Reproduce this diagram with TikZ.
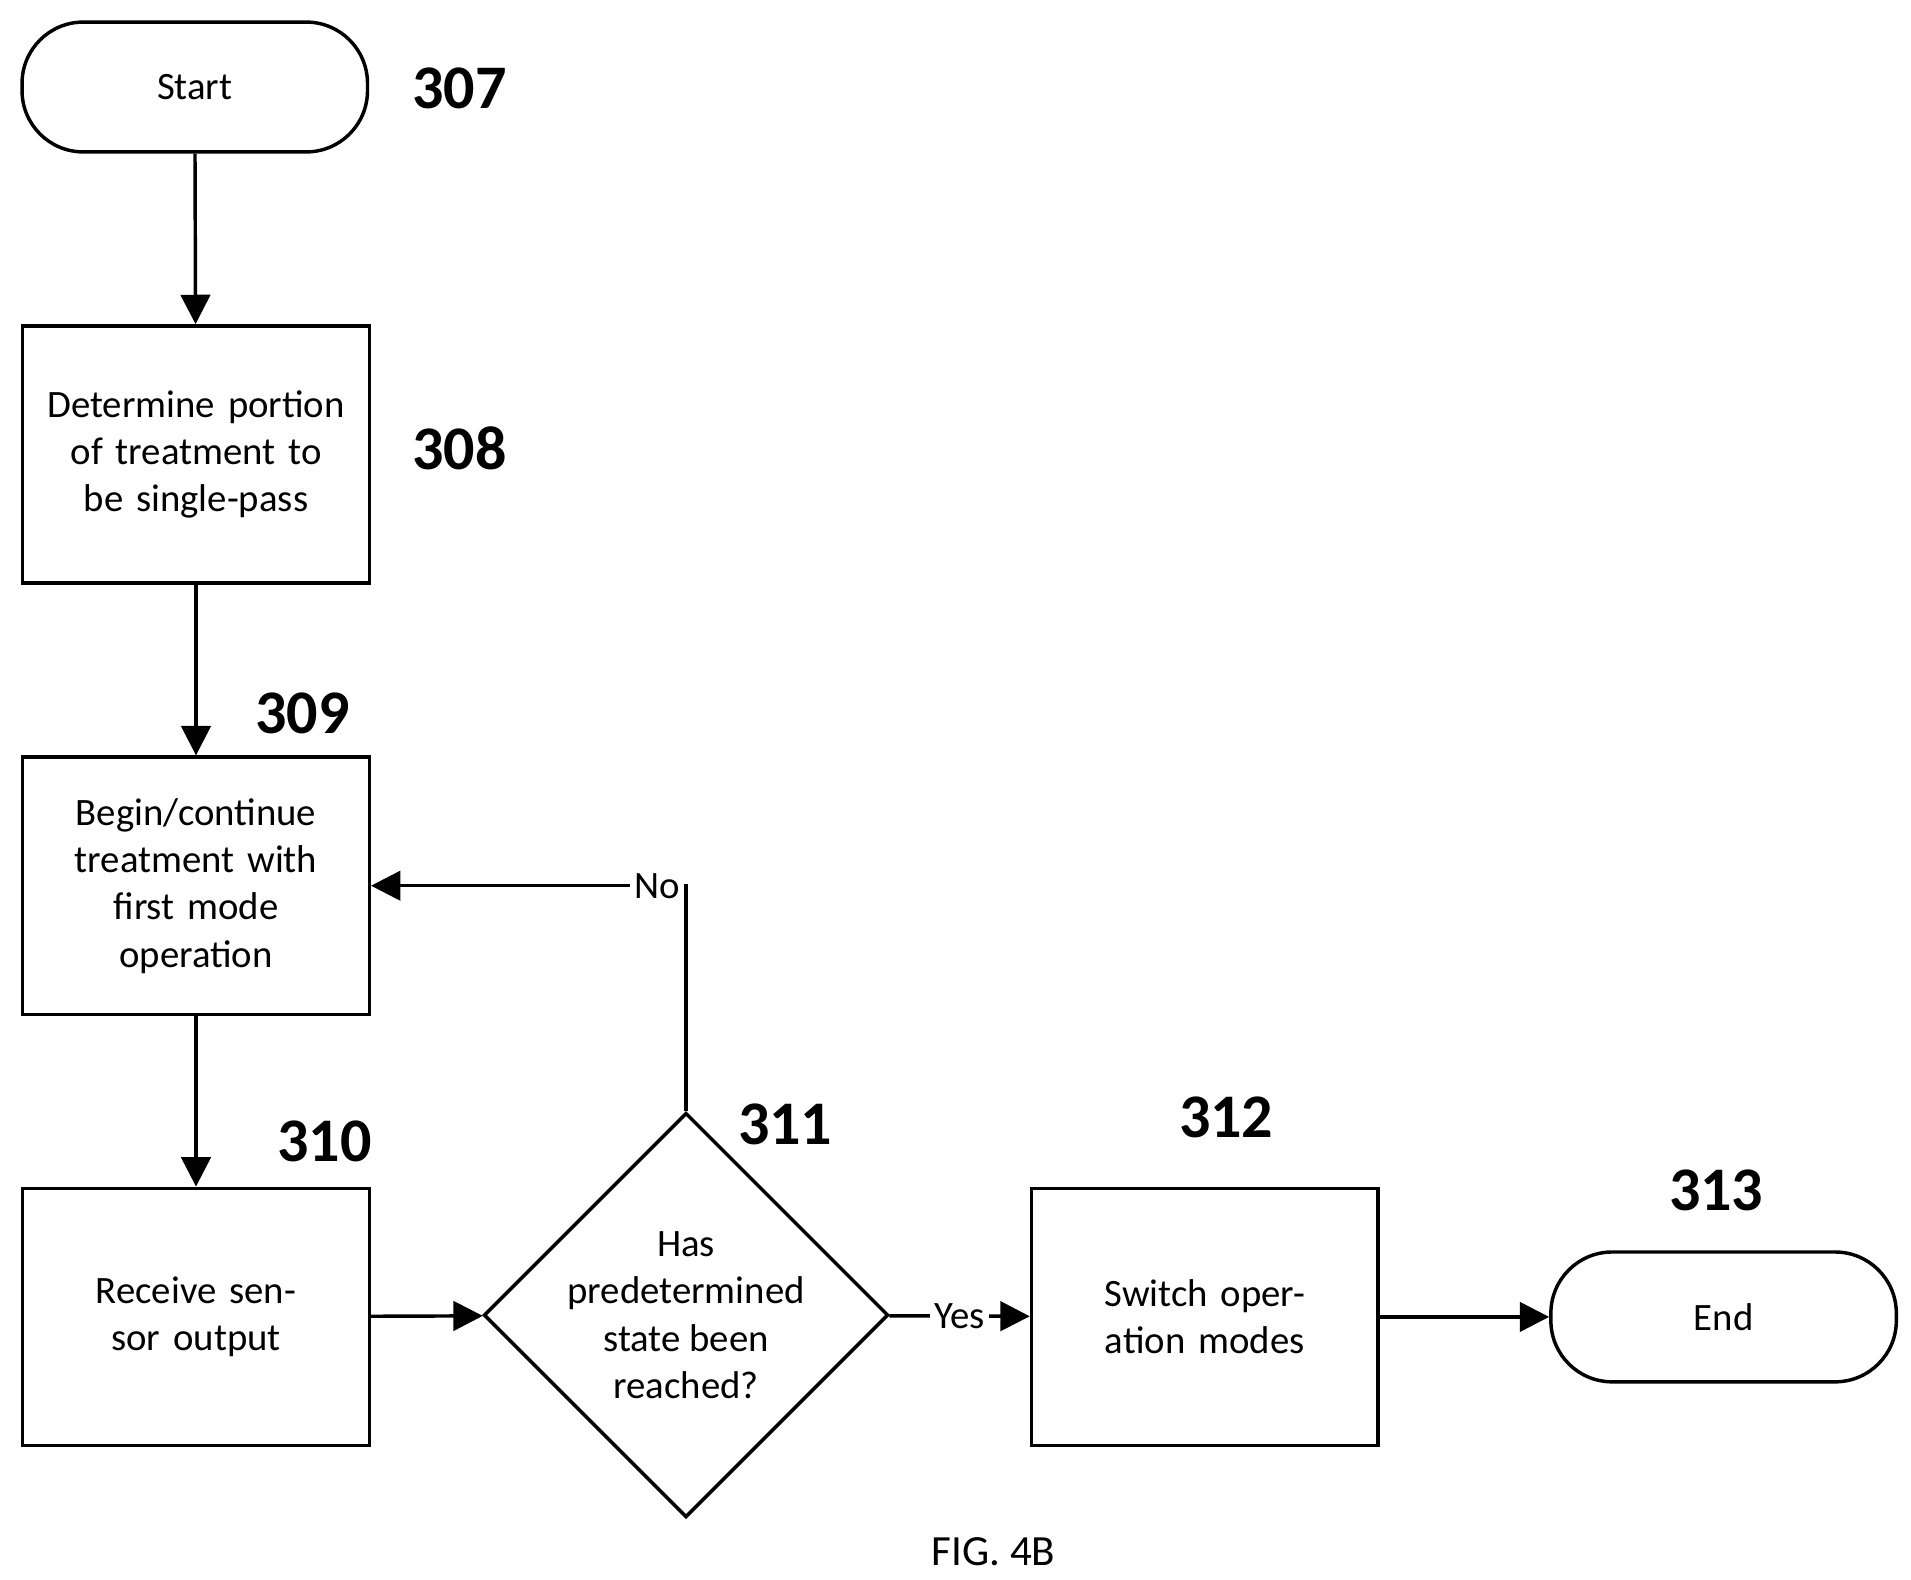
\documentclass[tikz,border=0pt]{standalone}
\usepackage{fontspec}
\setmainfont{Carlito}
\usetikzlibrary{positioning, arrows.meta, shapes.geometric}

\begin{document}
\begin{tikzpicture}[
      % GLOBAL CFG
      font=\small,
      >={Triangle[length=2.4mm,width=2.4mm]},
      % Styles
      process/.style={% For process boxes
        rectangle,
        draw,
        thick,
        align=center,
        text width=2.5cm,
        minimum height=2.1cm,
        minimum width=2.83cm
      },
      term/.style={% For start and end
        rectangle,
        rounded corners=5mm,
        draw,
        thick,
        minimum height=1.06cm,
        minimum width=2.82cm
      },
      decision/.style={% For the question
        diamond,
        draw,
        thick,
        align=center,
        aspect=1,
        minimum width=2.84cm,
        minimum height=2.77cm,
        inner sep=0pt
      },
      refnum/.style={% Reference numbers
        font=\Large\bfseries
      },
      arrowstep/.style={
        thick,
        ->,
      }
      ]
      \useasboundingbox (0,0) rectangle (15.6,-12.89);

      % Draw the flow:
      \node [term] (start) at (1.59,-0.71){Start};
      \node [process] (portion) at (1.60,-3.71){Determine portion of treatment to be single-pass};
      \node [process] (treat) at (1.60,-7.23){Begin/continue treatment with first mode operation};
      \node [process] (sensor) at (1.60,-10.75){Receive sensor output};
      \node [decision] (state) at (5.60,-10.735){Has\\predetermined\\state been\\reached?};
      \node [process] (switch) at (9.835,-10.75){Switch operation modes};
      \node [term] (end) at (14.07,-10.75){End};

      \node [refnum] (n307) at (3.75,-0.72){307};
      \node [refnum] (n308) at (3.75,-3.66){308};
      \node [refnum] (n309) at (2.47,-5.82){309};
      \node [refnum] (n310) at (2.65,-9.32){310};
      \node [refnum] (n311) at (6.41,-9.18){311};
      \node [refnum] (n312) at (10.01,-9.12){312};
      \node [refnum] (n313) at (14.01,-9.72){313};

      \node (caption) at (8.11,-12.67){\normalsize FIG. 4B};

      \coordinate (corner) at (state.north |- treat.east);

      \draw [arrowstep] (start) -- (portion);
      \draw [arrowstep] (portion) -- (treat);
      \draw [arrowstep] (treat) -- (sensor);
      \draw [arrowstep] (sensor) -- (state);
      \draw [arrowstep] (state) -- node [fill=white, inner sep=1pt]{Yes} (switch);
      \draw [arrowstep] (switch) -- (end);
      \draw [arrowstep] (state.north) -- (corner) -- node [pos=0, left, fill=white, inner sep=1pt]{No} (treat.east);
    \end{tikzpicture}
\end{document}
